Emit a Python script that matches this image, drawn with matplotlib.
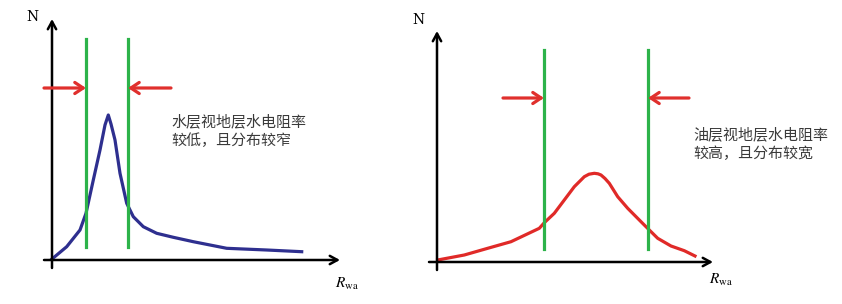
import numpy as np
import matplotlib
matplotlib.use('Agg')
import matplotlib.pyplot as plt

plt.rcParams['font.family'] = ['Noto Sans CJK SC', 'DejaVu Sans']
plt.rcParams['mathtext.fontset'] = 'stix'

# water layer curve (left), apparent formation water resistivity vs count
water_x = [0, 14.7, 28, 34, 41.3, 48, 53, 56.3, 59, 63, 68, 74.7, 81.3, 91.3, 104.7, 121.3, 141.3, 174.7, 214.7, 249.7]
water_n = [1, 13.3, 30, 46.7, 80, 110, 135, 145, 136, 120, 86.7, 56.7, 43.3, 33.3, 26.7, 22.7, 18.3, 11.7, 10, 8.3]
water_cut = [34, 76]
water_text = '水层视地层水电阻率\n较低，且分布较窄'

# oil layer curve (right)
oil_x = [0.7, 27.3, 50.7, 74, 102.3, 107.3, 117.3, 127.3, 137.3, 147.3, 152, 157.3, 161, 164, 168, 172.3, 180.7,
         190.7, 204, 212.3, 220.7, 234, 247.3, 258]
oil_n = [2, 7, 13.7, 20.3, 33.7, 39.3, 48.7, 62, 75.3, 85.3, 87.8, 88.7, 88.2, 87, 83.5, 78.7, 65.3,
         53.7, 40.3, 32, 23.7, 16, 11.3, 6]
oil_cut = [107, 211]
oil_text = '油层视地层水电阻率\n较高，且分布较宽'

fig = plt.figure(figsize=(8.42, 3.04), dpi=100)

def panel(rect, xlim, ylim, x, n, color, cut, cut_y, arrow_y, arr_len, text, text_xy,
          xaxis_end, yaxis_end, n_xy, r_xy):
    ax = fig.add_axes(rect)
    ax.set_xlim(*xlim)
    ax.set_ylim(*ylim)
    ax.axis('off')
    akw = dict(arrowstyle='->,head_length=0.55,head_width=0.3', lw=1.8, color='black',
               shrinkA=0, shrinkB=0)
    ax.annotate('', xy=(xaxis_end, 0), xytext=(-8, 0), arrowprops=akw)
    ax.annotate('', xy=(0, yaxis_end), xytext=(0, -8), arrowprops=akw)
    ax.plot(x, n, color=color, lw=2.3, solid_joinstyle='round')
    for c in cut:
        ax.plot([c, c], cut_y, color='#2db34a', lw=2.3)
    rkw = dict(arrowstyle='->,head_length=0.6,head_width=0.4', lw=2.3, color='#e0302d',
               shrinkA=0, shrinkB=0)
    ax.annotate('', xy=(cut[0], arrow_y), xytext=(cut[0] - arr_len[0], arrow_y), arrowprops=rkw)
    ax.annotate('', xy=(cut[1], arrow_y), xytext=(cut[1] + arr_len[1], arrow_y), arrowprops=rkw)
    ax.text(text_xy[0], text_xy[1], text, fontsize=10.8, color='#3a3a3a', va='top', ha='left',
            linespacing=1.4)
    ax.text(n_xy[0], n_xy[1], 'N', fontsize=10, family='DejaVu Serif', ha='center', va='center')
    ax.text(r_xy[0], r_xy[1], r'$R_{\mathrm{wa}}$', fontsize=11, ha='center', va='center')
    return ax

panel([0, 0, 0.5, 1], (-52, 369), (-44, 260), water_x, water_n, '#2e2f8f',
      water_cut, (13, 221), 172, (42, 43), water_text, (119, 146),
      288, 241, (-20, 243), (295, -23))
panel([0.5, 0, 0.5, 1], (-16, 405), (-42, 262), oil_x, oil_n, '#e02a28',
      oil_cut, (13, 212), 164, (41, 41), oil_text, (256, 135),
      276, 231, (-19, 242), (284, -18))

fig.savefig('out.png', dpi=100)
